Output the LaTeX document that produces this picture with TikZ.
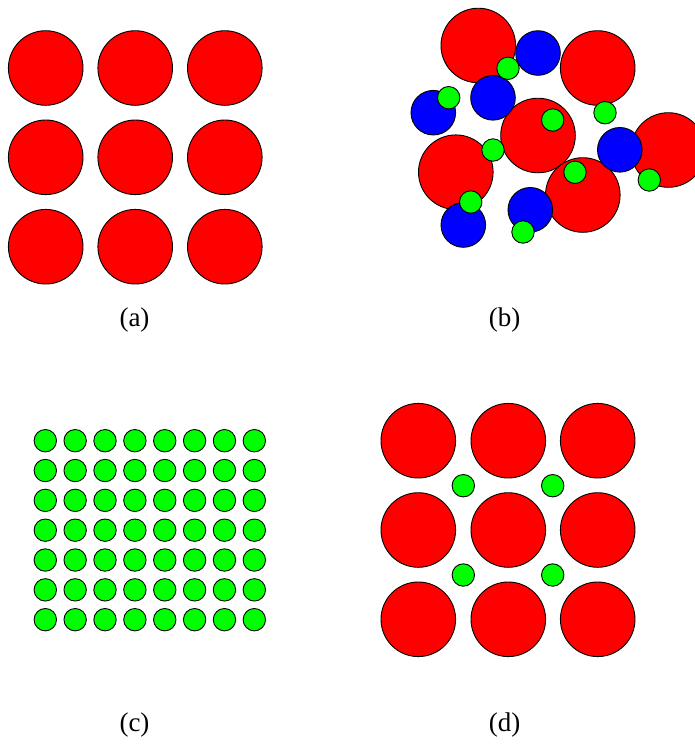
\documentclass[tikz,border=0pt]{standalone}
\usepackage{fontspec}
\setmainfont{Liberation Serif}
\begin{document}
\begin{tikzpicture}[x=1pt,y=-1pt,
  big/.style={circle,draw=black,line width=0.9pt,fill={rgb,255:red,255;green,0;blue,0},minimum size=74.6pt,inner sep=0pt},
  mid/.style={circle,draw=black,line width=0.9pt,fill={rgb,255:red,0;green,0;blue,255},minimum size=44.6pt,inner sep=0pt},
  small/.style={circle,draw=black,line width=0.9pt,fill={rgb,255:red,0;green,255;blue,0},minimum size=22.4pt,inner sep=0pt},
  lbl/.style={inner sep=0pt,font=\fontsize{27}{27}\selectfont}]
\useasboundingbox (0,0) rectangle (695,745);
\begin{scope}
\clip (0,0) rectangle (695,745);
% (a)
\foreach \i/\x in {1/45.7,2/135.2,3/224.8}
  \foreach \j/\y in {1/68,2/157.3,3/246.7}
    \node[big] (a\i\j) at (\x,\y) {};
% (b)
\node[big] (br1) at (478.3,45.5) {};
\node[big] (br2) at (597.7,68) {};
\node[big] (br3) at (538,135.5) {};
\node[big] (br4) at (668.3,150) {};
\node[big] (br5) at (455.8,172.2) {};
\node[big] (br6) at (582.8,195) {};
\node[mid] (bb1) at (538,53) {};
\node[mid] (bb2) at (493,97.8) {};
\node[mid] (bb3) at (433.3,112.7) {};
\node[mid] (bb4) at (619.8,149.8) {};
\node[mid] (bb5) at (463.3,225) {};
\node[mid] (bb6) at (530.3,209.8) {};
\node[small] (bg1) at (508,68.3) {};
\node[small] (bg2) at (448.7,97.7) {};
\node[small] (bg3) at (605,112.7) {};
\node[small] (bg4) at (552.7,120) {};
\node[small] (bg5) at (649.3,180) {};
\node[small] (bg6) at (493,150) {};
\node[small] (bg7) at (575,172.3) {};
\node[small] (bg8) at (470.7,202) {};
\node[small] (bg9) at (523,232) {};
% (c)
\foreach \i in {0,...,7}
  \foreach \j in {0,...,6}
    \node[small] (c\i\j) at ({45.3+29.86*\i},{440.7+29.83*\j}) {};
% (d)
\foreach \i/\x in {1/418.3,2/508.3,3/597.7}
  \foreach \j/\y in {1/440.7,2/530,3/619.3}
    \node[big] (d\i\j) at (\x,\y) {};
\node[small] (dg1) at (463.3,485.7) {};
\node[small] (dg2) at (552.7,485.7) {};
\node[small] (dg3) at (463.3,575) {};
\node[small] (dg4) at (552.7,575) {};
\end{scope}
% labels
\node[lbl] (la) at (134.5,320) {(a)};
\node[lbl] (lb) at (504.5,320) {(b)};
\node[lbl] (lc) at (134.5,725) {(c)};
\node[lbl] (ld) at (504.5,725) {(d)};
\end{tikzpicture}
\end{document}
